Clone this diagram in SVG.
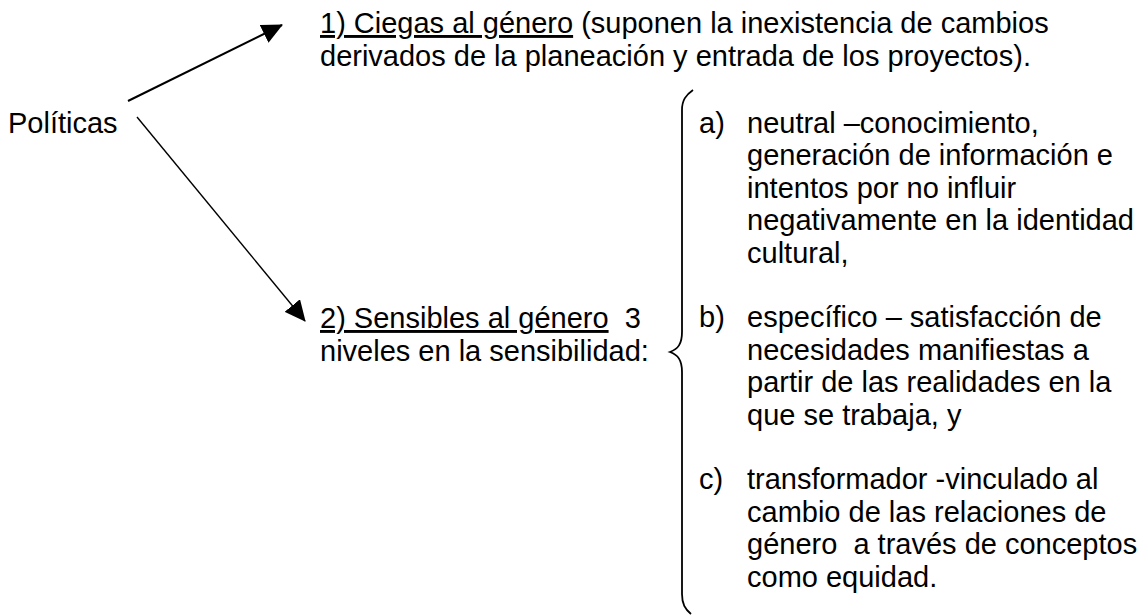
<svg xmlns="http://www.w3.org/2000/svg" width="1146" height="616" viewBox="0 0 1146 616">
<style>
text { font-family: "Liberation Sans", Arial, sans-serif; font-size: 29px; fill: #000; white-space: pre; }
.u { text-decoration: underline; }
.conn { stroke: #000; fill: none; }
.brace { stroke: #000; stroke-width: 1.8; fill: none; }
</style>
<defs>
<marker id="arr" markerWidth="21" markerHeight="20" viewBox="0 0 21 20" refX="20" refY="10" orient="auto" markerUnits="userSpaceOnUse">
<path d="M0,0 L21,10 L0,20 Z" fill="#000"/>
</marker>
</defs>
<rect width="1146" height="616" fill="#fff"/>
<g id="connectors">
<line class="conn" stroke-width="2" x1="128" y1="101" x2="282" y2="25" marker-end="url(#arr)"/>
<line class="conn" stroke-width="1.4" x1="137" y1="117" x2="305" y2="321" marker-end="url(#arr)"/>
</g>
<g id="node-politicas">
<text x="8" y="133">Políticas</text>
</g>
<g id="node-ciegas">
<text x="320" y="33"><tspan class="u">1) Ciegas al género</tspan> (suponen la inexistencia de cambios</text>
<text x="320" y="66">derivados de la planeación y entrada de los proyectos).</text>
</g>
<g id="node-sensibles">
<text x="320" y="328" xml:space="preserve"><tspan class="u">2) Sensibles al género</tspan>  3</text>
<text x="320" y="361">niveles en la sensibilidad:</text>
</g>
<g id="brace">
<path class="brace" d="M693,90 C686,95 682,100 682,110 L682,332 C682,344 678,349 670,352 C678,355 682,360 682,372 L682,594 C682,604 685,609 691,614"/>
</g>
<g id="node-a">
<text x="699" y="133">a)</text>
<text x="747" y="133">neutral –conocimiento,</text>
<text x="747" y="165.4">generación de información e</text>
<text x="747" y="197.8">intentos por no influir</text>
<text x="747" y="230.2">negativamente en la identidad</text>
<text x="747" y="262.6">cultural,</text>
</g>
<g id="node-b">
<text x="699" y="327.4">b)</text>
<text x="747" y="327.4">específico – satisfacción de</text>
<text x="747" y="359.8">necesidades manifiestas a</text>
<text x="747" y="392.2">partir de las realidades en la</text>
<text x="747" y="424.6">que se trabaja, y</text>
</g>
<g id="node-c">
<text x="699" y="489.4">c)</text>
<text x="747" y="489.4">transformador -vinculado al</text>
<text x="747" y="521.8">cambio de las relaciones de</text>
<text x="747" y="554.2" xml:space="preserve">género  a través de conceptos</text>
<text x="747" y="586.6">como equidad.</text>
</g>
</svg>
